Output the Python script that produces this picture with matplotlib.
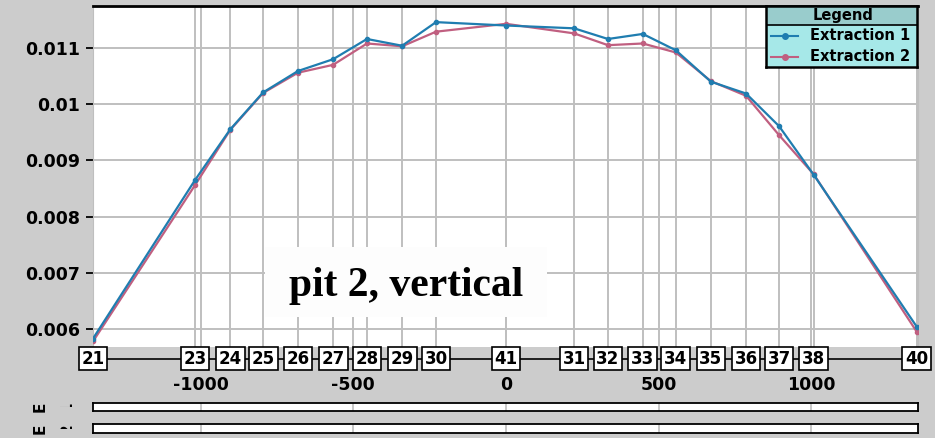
import matplotlib
matplotlib.use('Agg')
import matplotlib.pyplot as plt
from matplotlib.patches import Rectangle
from matplotlib.transforms import Bbox

# station labels along the profile, their offsets and the two extractions
stations = ['21', '23', '24', '25', '26', '27', '28', '29', '30', '41',
            '31', '32', '33', '34', '35', '36', '37', '38', '40']
offsets = [-1352, -1018, -903, -795, -681, -566, -455, -340, -229, 0,
           223, 334, 448, 556, 671, 786, 894, 1008, 1345]
extraction1 = [0.00583, 0.00865, 0.00955, 0.01021, 0.01059, 0.01080, 0.01116,
               0.01104, 0.01146, 0.01140, 0.01135, 0.01116, 0.01125, 0.01096,
               0.01040, 0.01019, 0.00961, 0.00874, 0.00604]
extraction2 = [0.00578, 0.00856, 0.00954, 0.01020, 0.01056, 0.01070, 0.01108,
               0.01103, 0.01129, 0.01143, 0.01126, 0.01105, 0.01108, 0.01092,
               0.01041, 0.01015, 0.00945, 0.00875, 0.00595]
xticks = [-1000, -500, 0, 500, 1000]
yticks = [0.006, 0.007, 0.008, 0.009, 0.01, 0.011]
ytick_labels = ['0.006', '0.007', '0.008', '0.009', '0.01', '0.011']

BG = '#cccccc'
GRID = '#bfbfbf'
BLUE = '#1f7db0'
PINK = '#c05f80'
W, H = 935, 438
XLIM = (-1352, 1349)

plt.rcParams['axes.unicode_minus'] = False


def px_axes(fig, x0, y0, x1, y1):
    # axes from pixel box (top-left origin)
    return fig.add_axes([x0 / W, (H - y1) / H, (x1 - x0) / W, (y1 - y0) / H])


fig = plt.figure(figsize=(W / 100, H / 100), dpi=100, facecolor=BG)

# main plot
ax = px_axes(fig, 93, 6, 918, 347)
ax.set_xlim(*XLIM)
ax.set_ylim(0.00568, 0.011747)
ax.set_facecolor('white')
for xv in xticks + offsets:
    ax.axvline(xv, color=GRID, lw=1.4, zorder=1)
for yv in yticks:
    ax.axhline(yv, color=GRID, lw=1.4, zorder=1)

ax.plot(offsets, extraction1, color=BLUE, lw=1.6, marker='o', ms=3, zorder=4)
ax.plot(offsets, extraction2, color=PINK, lw=1.6, marker='o', ms=3, zorder=3)

ax.set_xticks(xticks)
ax.set_xticklabels([str(v) for v in xticks])
ax.set_yticks(yticks)
ax.set_yticklabels(ytick_labels)
ax.tick_params(axis='x', length=0, pad=21)
ax.tick_params(axis='y', length=5, width=1.3, pad=4)
for lab in ax.get_xticklabels() + ax.get_yticklabels():
    lab.set_fontweight('bold')
    lab.set_fontsize(12.5)
ax.spines['top'].set_color('black')
ax.spines['top'].set_linewidth(2)
ax.spines['bottom'].set_visible(False)
ax.spines['left'].set_color(GRID)
ax.spines['right'].set_color(GRID)

# title box inside plot
ax.add_patch(Rectangle((0.2085, 0.088), 0.342, 0.205, transform=ax.transAxes,
                       facecolor='#fdfdfd', edgecolor='none', zorder=5))
ax.text(0.379, 0.178, 'pit 2, vertical', transform=ax.transAxes,
        ha='center', va='center', fontsize=30, fontweight='bold',
        family='Liberation Serif', zorder=6)

# station label strip
axs = px_axes(fig, 93, 346, 918, 371)
axs.set_xlim(*XLIM)
axs.set_ylim(0, 1)
axs.axis('off')
axs.axhline(0.5, color='black', lw=1.2, zorder=1)
for xv, name in zip(offsets, stations):
    axs.text(xv, 0.5, name, ha='center', va='center', fontsize=12,
             fontweight='bold', clip_on=False, zorder=3,
             bbox=dict(boxstyle='square,pad=0.17', facecolor='white',
                       edgecolor='black', lw=1.2))

# two thin bars below, with clipped rotated row labels
for (y0, y1), digit in zip([(403, 411), (424, 433)], ['1', '2']):
    axb = px_axes(fig, 93, y0, 918, y1)
    axb.set_xlim(*XLIM)
    axb.set_xticks([])
    axb.set_yticks([])
    for xv in xticks:
        axb.axvline(xv, color=GRID, lw=1.2)
    for sp in axb.spines.values():
        sp.set_linewidth(1.3)
    yc = H - (y0 + y1) / 2
    fig.text(40 / W, yc / H, 'E', rotation=90, ha='center', va='center',
             fontsize=11, fontweight='bold')
    t = fig.text(67 / W, yc / H, digit, rotation=90, ha='center',
                 va='center', fontsize=11, fontweight='bold')
    t.set_clip_on(True)
    t.set_clip_box(Bbox.from_extents(55, yc, 80, yc + 7))

# legend
axl = px_axes(fig, 766, 6, 917, 67)
axl.set_xlim(0, 151)
axl.set_ylim(61, 0)
axl.set_xticks([])
axl.set_yticks([])
axl.set_zorder(10)
axl.add_patch(Rectangle((0, 0), 151, 19, facecolor='#99cccc', edgecolor='none'))
axl.add_patch(Rectangle((0, 19), 151, 42, facecolor='#a6e8e8', edgecolor='none'))
axl.axhline(19, color='black', lw=1.2)
for sp in axl.spines.values():
    sp.set_linewidth(1.8)
axl.text(77, 9.5, 'Legend', ha='center', va='center', fontsize=10.5,
         fontweight='bold')
for yy, col, name in [(29.5, BLUE, 'Extraction 1'), (50.5, PINK, 'Extraction 2')]:
    axl.plot([5, 32], [yy, yy], color=col, lw=1.5)
    axl.plot([18.5], [yy], color=col, marker='o', ms=4)
    axl.text(44, yy, name, ha='left', va='center', fontsize=10.5,
             fontweight='bold')

fig.savefig('out.png', dpi=100, facecolor=BG)
